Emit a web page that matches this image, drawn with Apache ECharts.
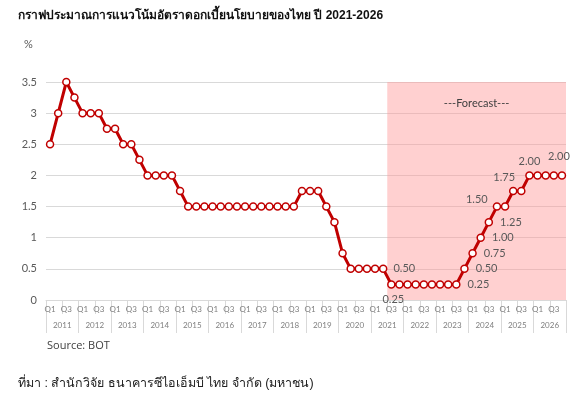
<!DOCTYPE html>
<html>
<head>
<meta charset="utf-8">
<script src="https://cdn.jsdelivr.net/npm/echarts@6/dist/echarts.min.js"></script>
<style>
  html, body { margin: 0; padding: 0; background: #fff; }
  #chart { width: 576px; height: 398px; }
</style>
</head>
<body>
<div id="chart"></div>
<script>
// ข้อมูล
const years = ['2011', '2012', '2013', '2014', '2015', '2016', '2017', '2018',
               '2019', '2020', '2021', '2022', '2023', '2024', '2025', '2026'];
const quarters = ['Q1', 'Q2', 'Q3', 'Q4'];
const rates = [
  2.5, 3, 3.5, 3.25,
  3, 3, 3, 2.75,
  2.75, 2.5, 2.5, 2.25,
  2, 2, 2, 2,
  1.75, 1.5, 1.5, 1.5,
  1.5, 1.5, 1.5, 1.5,
  1.5, 1.5, 1.5, 1.5,
  1.5, 1.5, 1.5, 1.75,
  1.75, 1.75, 1.5, 1.25,
  0.75, 0.5, 0.5, 0.5,
  0.5, 0.5, 0.25, 0.25,
  0.25, 0.25, 0.25, 0.25,
  0.25, 0.25, 0.25, 0.5,
  0.75, 1, 1.25, 1.5,
  1.5, 1.75, 1.75, 2,
  2, 2, 2, 2
];
const forecastStart = '2021 Q3';
const forecastEnd = '2026 Q4';
// จุดที่มีป้ายค่า
const labeledIdx = [41, 42, 50, 51, 52, 53, 54, 55, 57, 59, 63];

const categories = [];
years.forEach(y => quarters.forEach(q => categories.push(y + ' ' + q)));

// ตำแหน่งป้ายของแต่ละจุด
const labelPlace = {
  41: { position: 'right', distance: 6 },
  42: { position: 'bottom', distance: 5, offset: [2, 0] },
  50: { position: 'right', distance: 7 },
  51: { position: 'right', distance: 7 },
  52: { position: 'right', distance: 7 },
  53: { position: 'right', distance: 7 },
  54: { position: 'right', distance: 7 },
  55: { position: 'left', distance: 5, offset: [0, -7] },
  57: { position: 'top', distance: 3, offset: [-9, -1] },
  59: { position: 'top', distance: 4 },
  63: { position: 'top', distance: 9, offset: [-3, 0] }
};

const seriesData = rates.map((v, i) => {
  if (!labeledIdx.includes(i)) return v;
  const p = labelPlace[i];
  return {
    value: v,
    label: {
      show: true,
      position: p.position,
      distance: p.distance,
      offset: p.offset || [0, 0],
      formatter: d => d.value.toFixed(2)
    }
  };
});

// พื้นที่คาดการณ์ครอบทั้งช่องของไตรมาส (ใช้แกน value ซ่อนไว้)
const fStart = categories.indexOf(forecastStart) - 0.5;
const fEnd = categories.indexOf(forecastEnd) + 0.5;

const chart = echarts.init(document.getElementById('chart'));
const font = "Lato, 'Liberation Sans', sans-serif";

const option = {
  animation: false,
  textStyle: { fontFamily: font },
  grid: { left: 46, right: 10, top: 82, bottom: 98, containLabel: false },
  graphic: [
    { type: 'text', left: 18, top: 10,
      style: { text: 'กราฟประมาณการแนวโน้มอัตราดอกเบี้ยนโยบายของไทย ปี 2021-2026',
               font: "bold 12px 'Liberation Sans', Tahoma, sans-serif", fill: '#111' } },
    { type: 'text', left: 24, top: 39,
      style: { text: '%', font: "11px " + font, fill: '#595959' } },
    { type: 'text', left: 47, top: 340,
      style: { text: 'Source: BOT', font: "11px 'Open Sans', sans-serif", fill: '#404040' } },
    { type: 'text', left: 18, top: 377,
      style: { text: 'ที่มา : สำนักวิจัย ธนาคารซีไอเอ็มบี ไทย จำกัด (มหาชน)',
               font: "12.5px 'Liberation Sans', Tahoma, sans-serif", fill: '#222' } }
  ],
  xAxis: [
    {
      type: 'category',
      position: 'bottom',
      data: categories,
      boundaryGap: true,
      axisLine: { show: true, lineStyle: { color: '#d9d9d9' } },
      axisTick: { show: true, interval: 1, length: 14, lineStyle: { color: '#d9d9d9' } },
      axisLabel: {
        interval: 1,
        margin: 5,
        fontSize: 8,
        color: '#7f7f7f',
        formatter: v => v.split(' ')[1]
      },
      splitLine: { show: false }
    },
    {
      type: 'category',
      position: 'bottom',
      data: years,
      boundaryGap: true,
      axisLine: { show: false },
      axisTick: { show: true, interval: 0, length: 33, lineStyle: { color: '#d9d9d9' } },
      axisLabel: { interval: 0, margin: 21, fontSize: 8, color: '#7f7f7f' },
      splitLine: { show: false }
    },
    {
      type: 'value',
      position: 'bottom',
      min: -0.5,
      max: categories.length - 0.5,
      show: false
    }
  ],
  yAxis: {
    type: 'value',
    min: 0,
    max: 3.5,
    interval: 0.5,
    axisLine: { show: false },
    axisTick: { show: false },
    axisLabel: { margin: 9, fontSize: 11, color: '#595959' },
    splitLine: { lineStyle: { color: '#d9d9d9', width: 1 } }
  },
  series: [
    {
      type: 'line',
      xAxisIndex: 2,
      data: [],
      silent: true,
      markArea: {
        silent: true,
        itemStyle: { color: 'rgba(255,150,150,0.45)' },
        label: {
          show: true,
          position: 'insideTop',
          distance: 16,
          color: '#404040',
          fontSize: 11,
          fontFamily: font
        },
        data: [[
          { name: '---Forecast---', xAxis: fStart },
          { xAxis: fEnd }
        ]]
      },
      z: 1
    },
    {
      type: 'line',
      xAxisIndex: 0,
      data: seriesData,
      symbol: 'circle',
      symbolSize: 7,
      showAllSymbol: true,
      lineStyle: { color: '#c00000', width: 3 },
      itemStyle: { color: '#ffffff', borderColor: '#c00000', borderWidth: 1.5 },
      label: { color: '#595959', fontSize: 11, fontFamily: font },
      emphasis: { disabled: true },
      z: 3
    }
  ]
};

chart.setOption(option);
window.addEventListener('resize', () => chart.resize());
</script>
</body>
</html>
